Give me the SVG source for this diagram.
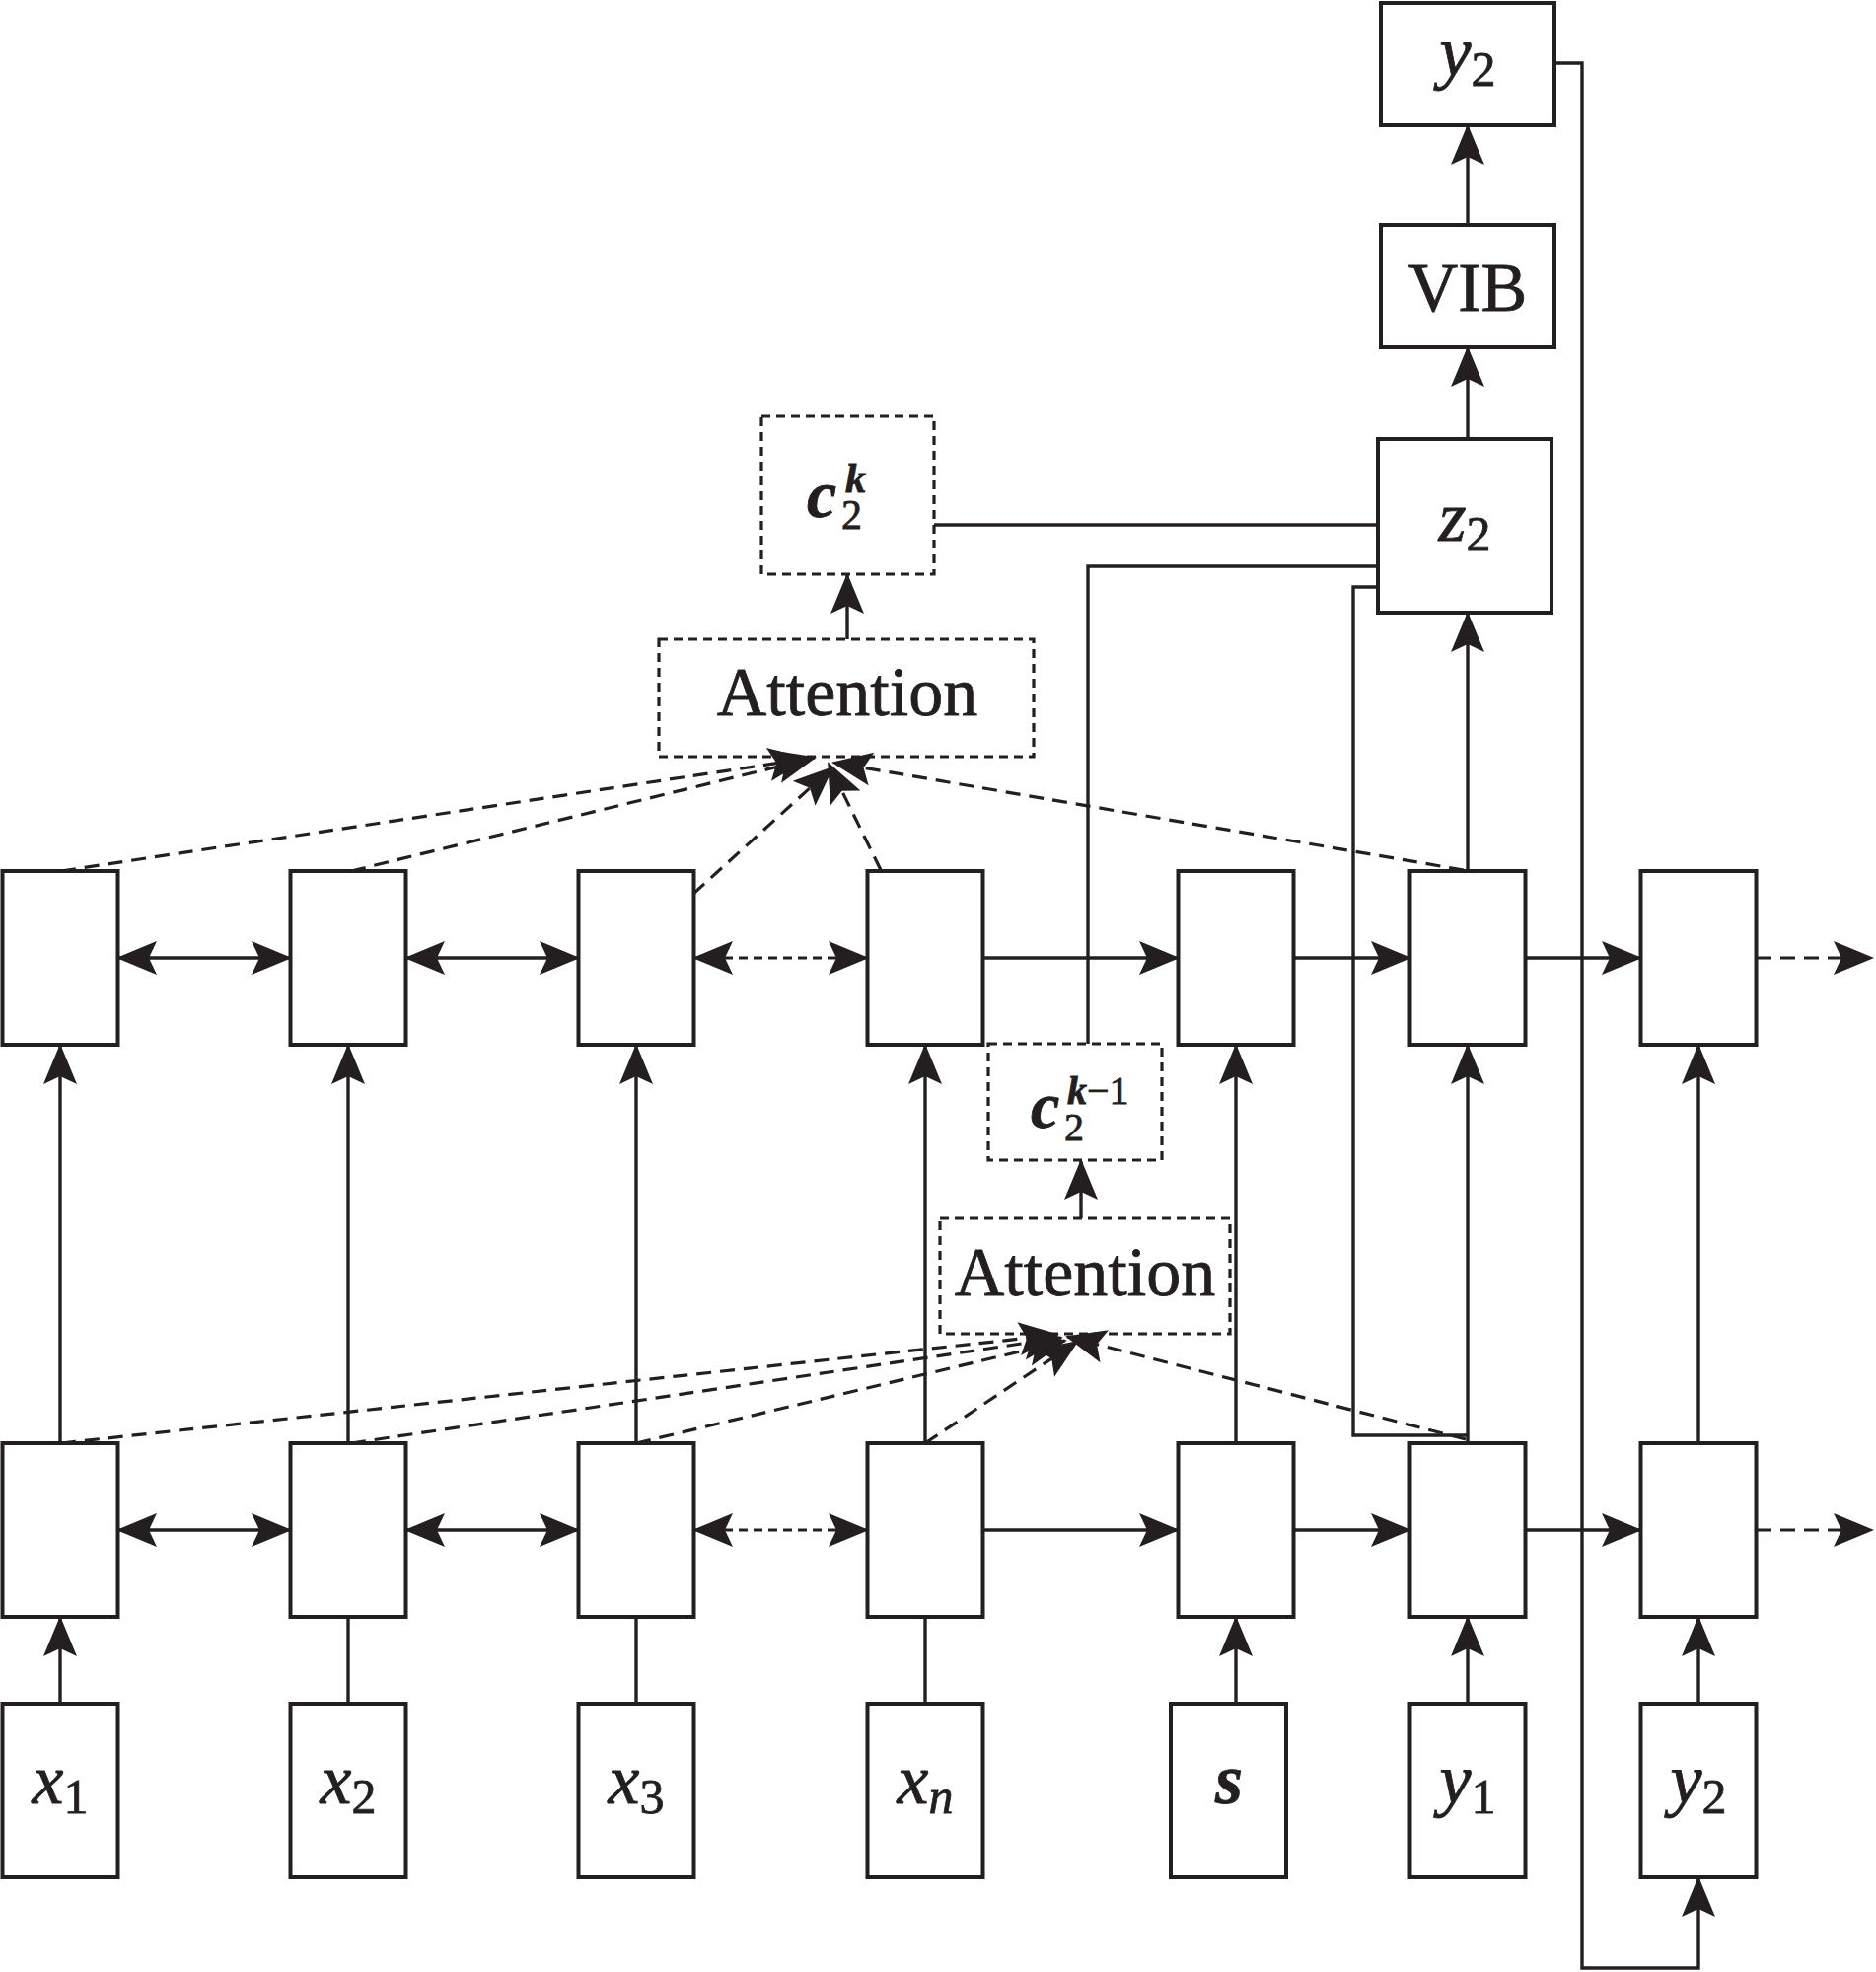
<svg xmlns="http://www.w3.org/2000/svg" width="1902" height="1999" viewBox="0 0 1902 1999">
<style>
.box{fill:#fff;stroke:#231f20;stroke-width:4}
.dbox{fill:#fff;stroke:#231f20;stroke-width:3.2;stroke-dasharray:9 6}
.ln{fill:none;stroke:#231f20;stroke-width:3.4}
.dash{fill:none;stroke:#231f20;stroke-width:3.2;stroke-dasharray:15 9}
.dot{fill:none;stroke:#231f20;stroke-width:3.2;stroke-dasharray:9 6}
text{font-family:"Liberation Serif","Times New Roman",serif;fill:#231f20;stroke:#231f20;stroke-width:0.8}
.lab{font-size:72px;font-style:italic}
.sub{font-size:50px;font-style:normal}
.bi{font-style:italic;font-weight:bold}
.up{font-size:70px}
</style>
<defs>
<marker id="ah" markerUnits="userSpaceOnUse" markerWidth="50" markerHeight="40" viewBox="-42 -20 46 40" refX="0" refY="0" orient="auto-start-reverse">
<path d="M2,0 L-39,-17 L-31,0 L-39,17 Z" fill="#231f20"/>
</marker>
</defs>

<g id="nodes">
<g id="h1"><rect class="box" x="2.5" y="883" width="117" height="176"/></g>
<g id="h2"><rect class="box" x="294.5" y="883" width="117" height="176"/></g>
<g id="h3"><rect class="box" x="586.5" y="883" width="117" height="176"/></g>
<g id="h4"><rect class="box" x="879.5" y="883" width="117" height="176"/></g>
<g id="h5"><rect class="box" x="1194.5" y="883" width="117" height="176"/></g>
<g id="h6"><rect class="box" x="1429.5" y="883" width="117" height="176"/></g>
<g id="h7"><rect class="box" x="1663.5" y="883" width="117" height="176"/></g>

<g id="e1"><rect class="box" x="2.5" y="1463" width="117" height="176"/></g>
<g id="e2"><rect class="box" x="294.5" y="1463" width="117" height="176"/></g>
<g id="e3"><rect class="box" x="586.5" y="1463" width="117" height="176"/></g>
<g id="e4"><rect class="box" x="879.5" y="1463" width="117" height="176"/></g>
<g id="e5"><rect class="box" x="1194.5" y="1463" width="117" height="176"/></g>
<g id="e6"><rect class="box" x="1429.5" y="1463" width="117" height="176"/></g>
<g id="e7"><rect class="box" x="1663.5" y="1463" width="117" height="176"/></g>

<g id="in-x1"><rect class="box" x="2.5" y="1727" width="117" height="176"/><text class="lab" x="61" y="1828" text-anchor="middle">x<tspan class="sub" dy="10">1</tspan></text></g>
<g id="in-x2"><rect class="box" x="294.5" y="1727" width="117" height="176"/><text class="lab" x="353" y="1828" text-anchor="middle">x<tspan class="sub" dy="10">2</tspan></text></g>
<g id="in-x3"><rect class="box" x="586.5" y="1727" width="117" height="176"/><text class="lab" x="645" y="1828" text-anchor="middle">x<tspan class="sub" dy="10">3</tspan></text></g>
<g id="in-xn"><rect class="box" x="879.5" y="1727" width="117" height="176"/><text class="lab" x="938" y="1828" text-anchor="middle">x<tspan class="sub" style="font-style:italic" dy="10">n</tspan></text></g>
<g id="in-s"><rect class="box" x="1187" y="1727" width="117" height="176"/><text class="lab bi" x="1246" y="1828" text-anchor="middle">s</text></g>
<g id="in-y1"><rect class="box" x="1429.5" y="1727" width="117" height="176"/><text class="lab" x="1488" y="1828" text-anchor="middle">y<tspan class="sub" dy="10">1</tspan></text></g>
<g id="in-y2"><rect class="box" x="1663.5" y="1727" width="117" height="176"/><text class="lab" x="1722" y="1828" text-anchor="middle">y<tspan class="sub" dy="10">2</tspan></text></g>

<g id="out-y2"><rect class="box" x="1400" y="3" width="176" height="124"/><text class="lab" x="1488" y="77" text-anchor="middle">y<tspan class="sub" dy="10">2</tspan></text></g>
<g id="vib"><rect class="box" x="1400" y="228" width="176" height="124"/><text class="up" x="1488" y="315" text-anchor="middle">VIB</text></g>
<g id="z2"><rect class="box" x="1397" y="445" width="176" height="176"/><text class="lab" x="1485" y="548" text-anchor="middle">z<tspan class="sub" dy="10">2</tspan></text></g>

<g id="ck"><rect class="dbox" x="772" y="422" width="175" height="160"/><text class="bi" style="font-size:68px" x="818" y="524">c<tspan style="font-size:42px;font-weight:normal;font-style:normal" x="853" y="536">2</tspan><tspan style="font-size:42px" x="857" y="499">k</tspan></text></g>
<g id="att-up"><rect class="dbox" x="668" y="648" width="380" height="119"/><text class="up" x="859" y="725" text-anchor="middle">Attention</text></g>
<g id="ck1"><rect class="dbox" x="1002" y="1058" width="176" height="118"/><text class="bi" style="font-size:66px" x="1045" y="1143">c<tspan style="font-size:40px;font-weight:normal;font-style:normal" x="1079" y="1156">2</tspan><tspan style="font-size:40px" x="1082" y="1119">k</tspan><tspan style="font-size:40px;font-weight:normal;font-style:normal" x="1102" y="1119">−1</tspan></text></g>
<g id="att-low"><rect class="dbox" x="953" y="1235" width="294" height="117"/><text class="up" x="1100" y="1313" text-anchor="middle">Attention</text></g>
</g>

<g id="connectors">
<line class="ln" x1="61" y1="1727" x2="61" y2="1640" marker-end="url(#ah)"/>
<line class="ln" x1="353" y1="1727" x2="353" y2="1639"/>
<line class="ln" x1="645" y1="1727" x2="645" y2="1639"/>
<line class="ln" x1="938" y1="1727" x2="938" y2="1639"/>
<line class="ln" x1="1253" y1="1727" x2="1253" y2="1640" marker-end="url(#ah)"/>
<line class="ln" x1="1488" y1="1727" x2="1488" y2="1640" marker-end="url(#ah)"/>
<line class="ln" x1="1722" y1="1727" x2="1722" y2="1640" marker-end="url(#ah)"/>
<line class="ln" x1="61" y1="1463" x2="61" y2="1060" marker-end="url(#ah)"/>
<line class="ln" x1="353" y1="1463" x2="353" y2="1060" marker-end="url(#ah)"/>
<line class="ln" x1="645" y1="1463" x2="645" y2="1060" marker-end="url(#ah)"/>
<line class="ln" x1="938" y1="1463" x2="938" y2="1060" marker-end="url(#ah)"/>
<line class="ln" x1="1253" y1="1463" x2="1253" y2="1060" marker-end="url(#ah)"/>
<line class="ln" x1="1488" y1="1463" x2="1488" y2="1060" marker-end="url(#ah)"/>
<line class="ln" x1="1722" y1="1463" x2="1722" y2="1060" marker-end="url(#ah)"/>
<line class="ln" x1="1488" y1="883" x2="1488" y2="622" marker-end="url(#ah)"/>
<line class="ln" x1="1488" y1="445" x2="1488" y2="353" marker-end="url(#ah)"/>
<line class="ln" x1="1488" y1="228" x2="1488" y2="128" marker-end="url(#ah)"/>
<line class="ln" x1="859" y1="648" x2="859" y2="583" marker-end="url(#ah)"/>
<line class="ln" x1="1096" y1="1235" x2="1096" y2="1177" marker-end="url(#ah)"/>
<line class="ln" x1="120" y1="971" x2="294" y2="971" marker-start="url(#ah)" marker-end="url(#ah)"/>
<line class="ln" x1="412" y1="971" x2="586" y2="971" marker-start="url(#ah)" marker-end="url(#ah)"/>
<line class="dot" x1="704" y1="971" x2="879" y2="971" marker-start="url(#ah)" marker-end="url(#ah)"/>
<line class="ln" x1="997" y1="971" x2="1194" y2="971" marker-end="url(#ah)"/>
<line class="ln" x1="1312" y1="971" x2="1429" y2="971" marker-end="url(#ah)"/>
<line class="ln" x1="1547" y1="971" x2="1663" y2="971" marker-end="url(#ah)"/>
<line class="dash" x1="1781" y1="971" x2="1898" y2="971" marker-end="url(#ah)"/>
<line class="ln" x1="120" y1="1551" x2="294" y2="1551" marker-start="url(#ah)" marker-end="url(#ah)"/>
<line class="ln" x1="412" y1="1551" x2="586" y2="1551" marker-start="url(#ah)" marker-end="url(#ah)"/>
<line class="dot" x1="704" y1="1551" x2="879" y2="1551" marker-start="url(#ah)" marker-end="url(#ah)"/>
<line class="ln" x1="997" y1="1551" x2="1194" y2="1551" marker-end="url(#ah)"/>
<line class="ln" x1="1312" y1="1551" x2="1429" y2="1551" marker-end="url(#ah)"/>
<line class="ln" x1="1547" y1="1551" x2="1663" y2="1551" marker-end="url(#ah)"/>
<line class="dash" x1="1781" y1="1551" x2="1898" y2="1551" marker-end="url(#ah)"/>
<line class="dash" x1="62" y1="883" x2="818" y2="769" marker-end="url(#ah)"/>
<line class="dash" x1="356" y1="883" x2="826" y2="768" marker-end="url(#ah)"/>
<line class="dash" x1="703" y1="906" x2="844" y2="778" marker-end="url(#ah)"/>
<line class="dash" x1="893" y1="882" x2="840" y2="774" marker-end="url(#ah)"/>
<line class="dash" x1="1484" y1="882" x2="845" y2="773" marker-end="url(#ah)"/>
<line class="dash" x1="62" y1="1463" x2="1072" y2="1353" marker-end="url(#ah)"/>
<line class="dash" x1="356" y1="1463" x2="1076" y2="1356" marker-end="url(#ah)"/>
<line class="dash" x1="645" y1="1463" x2="1080" y2="1359" marker-end="url(#ah)"/>
<line class="dash" x1="938" y1="1463" x2="1092" y2="1360" marker-end="url(#ah)"/>
<line class="dash" x1="1486" y1="1459" x2="1082" y2="1355" marker-end="url(#ah)"/>
<polyline class="ln" points="947,532 1397,532"/>
<polyline class="ln" points="1397,574 1103,574 1103,1058"/>
<polyline class="ln" points="1397,595 1372,595 1372,1455 1488,1455"/>
<polyline class="ln" points="1576,64 1604,64 1604,1995 1722,1995 1722,1904" marker-end="url(#ah)"/>
</g>
</svg>
